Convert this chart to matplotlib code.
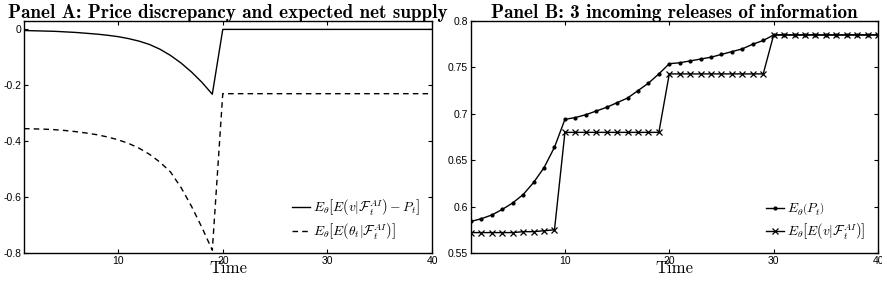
import matplotlib
matplotlib.use("Agg")
import matplotlib.pyplot as plt
from matplotlib.ticker import FormatStrFormatter

plt.rcParams['mathtext.fontset'] = 'cm'
plt.rcParams['font.family'] = ['Liberation Sans', 'DejaVu Sans']

time = list(range(1, 41))

# Panel A
discrepancy = [-0.004, -0.005, -0.006, -0.007, -0.009, -0.011, -0.014, -0.017, -0.021, -0.026,
               -0.033, -0.042, -0.054, -0.071, -0.093, -0.120, -0.152, -0.189, -0.232] + [0.0] * 21
net_supply = [-0.355, -0.356, -0.357, -0.359, -0.362, -0.366, -0.371, -0.377, -0.385, -0.395,
              -0.408, -0.425, -0.447, -0.475, -0.510, -0.565, -0.632, -0.708, -0.790] + [-0.23] * 21

# Panel B
exp_price = [0.584, 0.587, 0.591, 0.597, 0.604, 0.613, 0.626, 0.642, 0.664,
             0.694, 0.696, 0.699, 0.703, 0.707, 0.712, 0.717, 0.725, 0.733, 0.743,
             0.754, 0.755, 0.757, 0.759, 0.761, 0.764, 0.767, 0.770, 0.775, 0.779] + [0.785] * 11
exp_value = [0.572, 0.572, 0.572, 0.572, 0.572, 0.573, 0.573, 0.574, 0.575] + [0.680] * 10 \
    + [0.743] * 10 + [0.785] * 11

fig = plt.figure(figsize=(8.82, 2.82), dpi=100)
axA = fig.add_axes([0.0272, 0.1028, 0.4626, 0.8227])
axB = fig.add_axes([0.534, 0.1028, 0.4615, 0.8227])

axA.plot(time, discrepancy, 'k-', lw=1.0,
         label=r'$E_\theta\left[E\left(v|\mathcal{F}_t^{AI}\right)-P_t\right]$')
axA.plot(time, net_supply, 'k--', lw=1.0, dashes=(4, 3),
         label=r'$E_\theta\left[E\left(\theta_t|\mathcal{F}_t^{AI}\right)\right]$')
axA.set_xlim(1, 40)
axA.set_ylim(-0.8, 0.03)
axA.set_yticks([0, -0.2, -0.4, -0.6, -0.8])
axA.yaxis.set_major_formatter(FormatStrFormatter('%g'))
axA.set_title('Panel A: Price discrepancy and expected net supply',
              family='cmb10', fontsize=13.8, pad=2)

axB.plot(time, exp_price, 'k-', marker='.', ms=4, lw=1.0,
         label=r'$E_\theta\left(P_t\right)$')
axB.plot(time, exp_value, 'k-', marker='x', ms=4, mew=0.9, lw=1.0,
         label=r'$E_\theta\left[E\left(v|\mathcal{F}_t^{AI}\right)\right]$')
axB.set_xlim(1, 40)
axB.set_ylim(0.55, 0.8)
axB.set_yticks([0.55, 0.6, 0.65, 0.7, 0.75, 0.8])
axB.yaxis.set_major_formatter(FormatStrFormatter('%g'))
axB.set_title('Panel B: 3 incoming releases of information',
              family='cmb10', fontsize=13.8, pad=2)

for ax in (axA, axB):
    ax.set_xticks([10, 20, 30, 40])
    ax.tick_params(direction='in', top=True, right=True, labelsize=7.5,
                   length=3, width=0.8, pad=2)
    for s in ax.spines.values():
        s.set_linewidth(1.0)
    ax.set_xlabel('Time', family='cmr10', fontsize=12, labelpad=-4)
    ax.legend(loc='lower right', frameon=False, fontsize=9.8, handlelength=1.3,
              handletextpad=0.25, labelspacing=0.25, borderaxespad=0.5)

fig.savefig('out.png', dpi=100)
